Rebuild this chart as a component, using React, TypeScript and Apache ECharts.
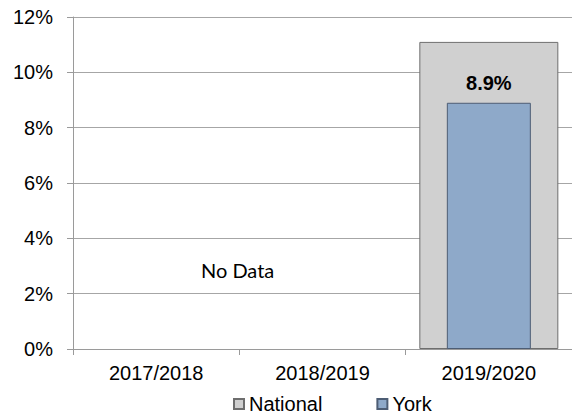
import React, { useEffect, useRef } from "react";
import * as echarts from "echarts";

const categories = ["2017/2018", "2018/2019", "2019/2020"];
const nationalValues: (number | null)[] = [null, null, 11.1];
const yorkValues: (number | null)[] = [null, null, 8.9];
const yTicks = { min: 0, max: 12, interval: 2 };
const noDataText = "No Data";

export default function App() {
  const ref = useRef<HTMLDivElement>(null);
  useEffect(() => {
    if (!ref.current) return;
    const chart = echarts.init(ref.current, null, { renderer: "svg" });
    const axisFont = { fontFamily: "Liberation Sans, Arial", fontSize: 20, color: "#000" };
    chart.setOption({
      animation: false,
      backgroundColor: "#fff",
      grid: { left: 73, right: -2, top: 17, bottom: 70 },
      legend: {
        data: ["National", "York"],
        left: 228,
        top: 389,
        itemWidth: 10,
        itemHeight: 10,
        itemGap: 54,
        icon: "rect",
        textStyle: { ...axisFont },
      },
      xAxis: [
        {
          type: "category",
          data: categories,
          boundaryGap: true,
          axisLine: { show: true, lineStyle: { color: "#9a9a9a", width: 1 } },
          axisTick: { show: true, alignWithLabel: false, length: 6, lineStyle: { color: "#9a9a9a" } },
          axisLabel: { ...axisFont, margin: 14 },
          splitLine: { show: false },
        },
        {
          type: "category",
          data: categories,
          show: false,
        },
      ],
      yAxis: {
        type: "value",
        min: yTicks.min,
        max: yTicks.max,
        interval: yTicks.interval,
        axisLine: { show: true, lineStyle: { color: "#9a9a9a", width: 1 } },
        axisTick: { show: true, length: 6, lineStyle: { color: "#9a9a9a" } },
        axisLabel: { ...axisFont, margin: 20, formatter: "{value}%" },
        splitLine: { show: true, lineStyle: { color: "#a6a6a6", width: 1 } },
      },
      series: [
        {
          name: "National",
          type: "bar",
          xAxisIndex: 0,
          data: nationalValues,
          barWidth: 139,
          itemStyle: { color: "#d0d0d0", borderColor: "#6e6e6e", borderWidth: 1 },
        },
        {
          name: "York",
          type: "bar",
          xAxisIndex: 1,
          data: yorkValues,
          barWidth: 84,
          itemStyle: { color: "#8ea9c9", borderColor: "#4d5d74", borderWidth: 1 },
          label: {
            show: true,
            position: "top",
            distance: 10,
            formatter: (p: any) => (p.value == null ? "" : `${p.value}%`),
            fontFamily: "Liberation Sans, Arial",
            fontSize: 20,
            fontWeight: "bold",
            color: "#000",
          },
        },
      ],
      graphic: [
        {
          type: "text",
          left: 201,
          top: 260,
          style: {
            text: noDataText,
            fontFamily: "Lato, Open Sans",
            fontSize: 20,
            fill: "#000",
          },
        },
      ],
    });
    return () => chart.dispose();
  }, []);
  return (
    <div
      ref={ref}
      style={{ position: "fixed", left: 0, top: 0, width: 572, height: 419 }}
    />
  );
}
